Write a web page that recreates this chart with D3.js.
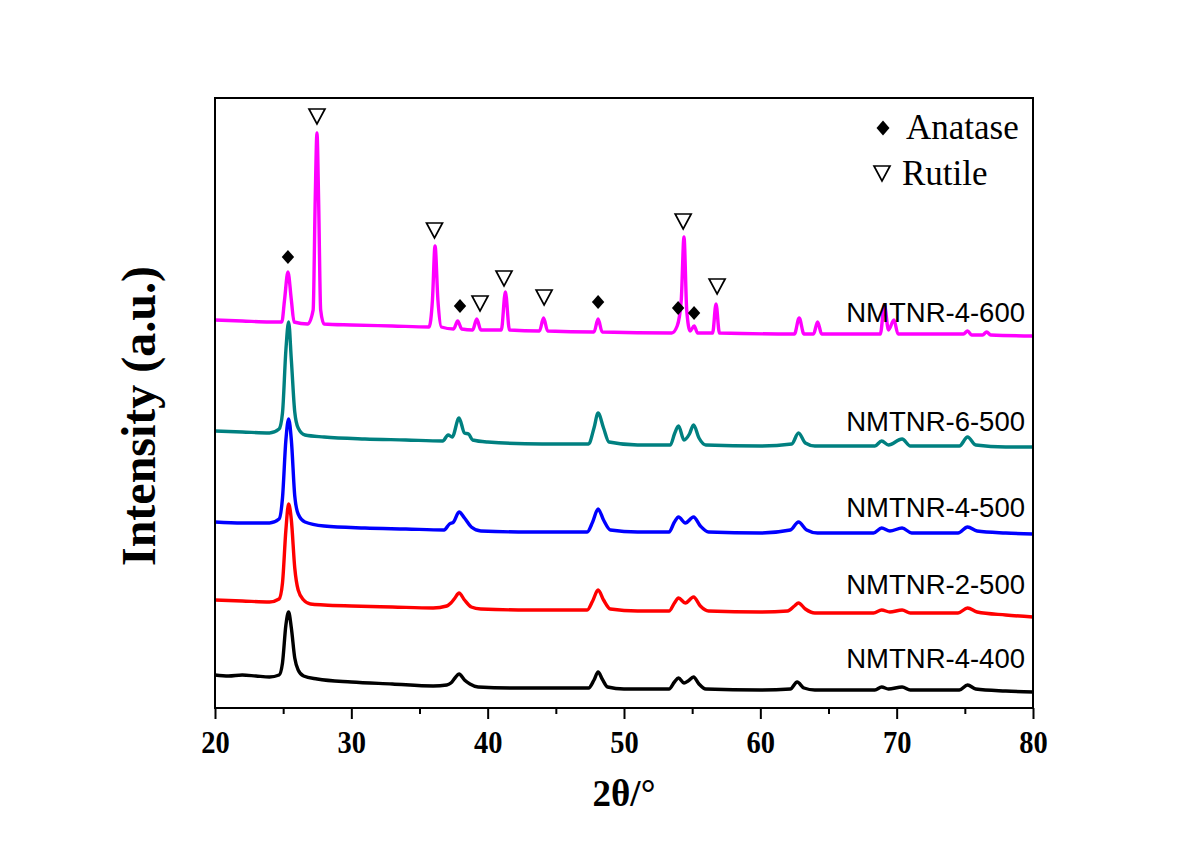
<!DOCTYPE html>
<html><head><meta charset="utf-8">
<script src="https://cdn.jsdelivr.net/npm/d3@7"></script>
<style>body{margin:0;background:#fff}svg{display:block}</style>
</head><body><svg id="c" width="1200" height="849"></svg>
<script>
// 2θ (deg), intensity (a.u., offset-stacked)
const s400 = [[20,33],[21,32],[22,33],[23,32],[24,31],[24.7,33],[24.95,45],[25.2,83],[25.4,96],[25.6,80],[25.85,50],[26.1,38],[26.5,32],[27.5,29],[30,26],[33,24],[36,22],[37.0,23],[37.3,25],[37.6,30],[37.9,34],[38.3,28],[38.7,24],[39.3,21],[42,20],[45,20],[47.4,20],[47.8,28],[48.1,36],[48.4,29],[48.8,21],[50,19],[53.3,19],[53.7,26],[54.0,30],[54.4,25],[54.7,27],[55.1,31],[55.5,24],[56,19],[60,18],[62.2,19],[62.7,26],[63.2,20],[64,18],[68.4,18],[68.9,21],[69.4,19],[70.4,21],[71,18],[74.6,18],[75.2,23],[75.8,19],[78,17],[80,16]];
const s2500 = [[20,108],[22,107],[24,106],[24.7,109],[24.95,125],[25.2,178],[25.4,204],[25.6,188],[25.85,140],[26.1,118],[26.5,108],[27,104],[28,103],[30,102],[33,101],[36,100],[37.0,102],[37.3,105],[37.6,110],[37.9,115],[38.3,108],[38.8,101],[39.5,99],[43,98],[47.3,98],[47.7,107],[48.1,118],[48.5,108],[49,99],[51,97],[53.3,97],[53.7,105],[54.0,110],[54.5,105],[55.1,111],[55.6,102],[56.2,97],[60,96],[62.0,97],[62.5,102],[62.8,105],[63.3,99],[64,95],[68.3,95],[68.9,98],[69.5,96],[70.4,98],[71,95],[74.5,95],[75.2,100],[75.9,96],[78,93],[80,91]];
const s4500 = [[20,186],[22,185],[24,185],[24.7,189],[24.95,210],[25.2,268],[25.4,289],[25.6,268],[25.85,212],[26.1,194],[26.6,186],[28,182],[31,180],[34,179],[36.8,178],[37.2,184],[37.5,186],[37.9,196],[38.3,190],[38.8,181],[39.5,177],[43,176],[47.3,176],[47.7,186],[48.1,199],[48.5,188],[49,178],[51,176],[53.3,176],[53.7,186],[54.0,191],[54.5,185],[55.1,191],[55.6,182],[56.2,176],[60,175],[62.2,178],[62.8,186],[63.4,178],[64.2,175],[68.3,175],[68.9,180],[69.5,177],[70.4,180],[71.1,175],[74.5,175],[75.2,181],[75.9,177],[78,175],[80,174]];
const s6500 = [[20,277],[22,276],[24,275],[24.7,279],[24.95,295],[25.2,358],[25.4,386],[25.6,348],[25.85,296],[26.1,280],[26.6,273],[28,271],[31,269],[34,268],[36.7,267],[37.1,273],[37.4,271],[37.9,290],[38.3,275],[38.6,274],[38.9,268],[40,266],[44,264],[47.4,264],[47.8,280],[48.1,295],[48.5,280],[48.9,266],[51,263],[53.4,263],[53.7,274],[54.0,282],[54.4,268],[54.8,274],[55.1,283],[55.5,270],[56,263],[60,262],[62.3,264],[62.8,275],[63.3,265],[64,262],[68.4,262],[68.9,267],[69.4,263],[70.4,269],[71,262],[74.6,262],[75.2,271],[75.8,263],[78,261],[80,261]];
const s600 = [[20,388],[22,387],[24,386],[24.9,386],[25.1,408],[25.35,436],[25.6,408],[25.8,386],[26.8,384],[27.2,398],[27.35,508],[27.48,575],[27.6,508],[27.75,398],[28.0,384],[30,383],[33,382],[35.7,381],[35.95,408],[36.14,462],[36.35,408],[36.6,381],[37.5,379],[37.8,387],[38.1,379],[38.9,378],[39.2,389],[39.5,378],[41.0,378],[41.3,416],[41.6,378],[43.8,377],[44.1,390],[44.4,377],[47.8,376],[48.1,389],[48.4,376],[53.5,375],[53.9,382],[54.2,408],[54.4,471],[54.6,398],[54.85,377],[55.15,382],[55.4,375],[56.5,375],[56.75,404],[57.0,375],[62.5,374],[62.85,390],[63.2,374],[63.9,374],[64.2,386],[64.5,374],[68.8,374],[69.1,403],[69.4,378],[69.8,388],[70.1,374],[74.9,374],[75.2,377],[75.5,373],[76.3,373],[76.6,376],[76.9,373],[80,372]];

const seriesNames = ["NMTNR-4-400","NMTNR-2-500","NMTNR-4-500","NMTNR-6-500","NMTNR-4-600"];
const seriesData = [s400, s2500, s4500, s6500, s600];
const seriesColors = ["#000000","#ff0000","#0000ff","#008080","#ff00ff"];
const labelY = [40, 114, 191, 277, 386]; // label baseline, a.u.

const anatase = [[25.35,451],[37.97,402],[48.1,406],[53.97,400],[55.14,395]];
const rutile = [[27.48,592],[36.1,478],[39.44,405],[41.2,430],[44.14,411],[54.34,487],[56.83,422]];

const xTicks = [20,30,40,50,60,70,80];

const svg = d3.select("#c");
const L=215, R=1033, T=98, B=708;
const x = d3.scaleLinear().domain([20,80]).range([L,R]);
const y = d3.scaleLinear().domain([0,610]).range([B,T]);
const serif = "Liberation Serif, Times New Roman, serif";

// lines
const line = d3.line().x(d=>x(d[0])).y(d=>y(d[1])).curve(d3.curveMonotoneX);
seriesData.forEach((s,i)=>{
  svg.append("path").datum(s).attr("d",line).attr("fill","none")
    .attr("stroke",seriesColors[i]).attr("stroke-width",3.4).attr("stroke-linejoin","round");
});

// labels
seriesNames.forEach((n,i)=>{
  svg.append("text").attr("x",1025).attr("y",y(labelY[i])).attr("text-anchor","end")
    .attr("font-family","Liberation Sans, Arial, sans-serif").attr("font-size",27.5).attr("fill","#000").text(n);
});

// markers
const dia = "M0,-7L6.2,0L0,7L-6.2,0Z";
svg.selectAll(".an").data(anatase).enter().append("path")
  .attr("d",dia).attr("transform",d=>`translate(${x(d[0])},${y(d[1])})`).attr("fill","#000");
const tri = "M-8,-7L8,-7L0,8Z";
svg.selectAll(".ru").data(rutile).enter().append("path")
  .attr("d",tri).attr("transform",d=>`translate(${x(d[0])},${y(d[1])})`)
  .attr("fill","#fff").attr("stroke","#000").attr("stroke-width",1.7).attr("stroke-linejoin","miter");

// frame
svg.append("rect").attr("x",L).attr("y",T).attr("width",R-L).attr("height",B-T)
  .attr("fill","none").attr("stroke","#000").attr("stroke-width",2);

// x axis
const xa = svg.append("g").attr("transform",`translate(0,${B})`)
  .call(d3.axisBottom(x).tickValues(xTicks).tickSize(11).tickPadding(12).tickFormat(d3.format("d")));
xa.select(".domain").remove();
xa.selectAll(".tick line").attr("stroke-width",2);
xa.selectAll("text").attr("font-family",serif)
  .attr("font-weight","bold").attr("font-size",31).attr("fill","#000")
  .attr("transform","scale(0.92,1)");
const minor = d3.range(25,80,10);
svg.append("g").attr("transform",`translate(0,${B})`)
  .call(d3.axisBottom(x).tickValues(minor).tickSize(6).tickFormat(""))
  .call(g=>{g.select(".domain").remove(); g.selectAll(".tick line").attr("stroke-width",2);});

// axis titles
svg.append("text").attr("x",(L+R)/2).attr("y",806).attr("text-anchor","middle")
  .attr("font-family",serif).attr("font-weight","bold")
  .attr("font-size",37).text("2θ/°");
svg.append("text").attr("transform","translate(155,416) rotate(-90)").attr("text-anchor","middle")
  .attr("font-family",serif).attr("font-weight","bold")
  .attr("font-size",48).text("Intensity (a.u.)");

// legend
svg.append("path").attr("d","M0,-7.5L6.5,0L0,7.5L-6.5,0Z").attr("transform","translate(883,128)").attr("fill","#000");
svg.append("text").attr("x",906).attr("y",139).attr("font-family",serif)
  .attr("font-size",35).text("Anatase");
svg.append("path").attr("d","M-8,-7L8,-7L0,8Z").attr("transform","translate(882,173)")
  .attr("fill","#fff").attr("stroke","#000").attr("stroke-width",1.7);
svg.append("text").attr("x",902).attr("y",185).attr("font-family",serif)
  .attr("font-size",35).text("Rutile");
</script></body></html>
